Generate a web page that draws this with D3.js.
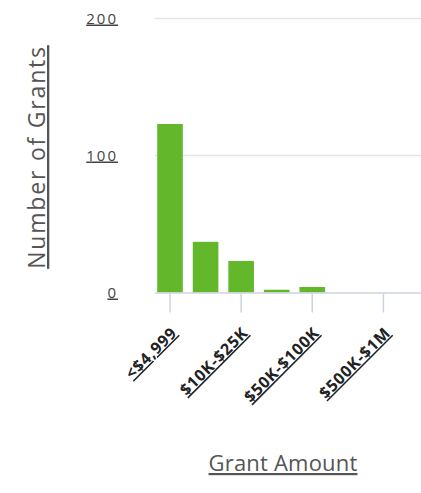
<!DOCTYPE html>
<html>
<head>
<meta charset="utf-8">
<script src="https://cdn.jsdelivr.net/npm/d3@7"></script>
<style>
    body { margin: 0; background: #fff; }
    svg { display: block; }
</style>
</head>
<body>
<div id="chart"></div>
<script>
// data
const categories = ['<$4,999', '$5K-$10K', '$10K-$25K', '$25K-$50K', '$50K-$100K', '$100K-$500K', '$500K-$1M', '$1M+'];
const grantCounts = [123, 37, 23, 2, 4, 0, 0, 0];
const yTicks = [0, 100, 200];

const width = 421, height = 493;

const svg = d3.select('#chart')
    .append('svg')
    .attr('width', width)
    .attr('height', height)
    .style('font-family', '"Open Sans", sans-serif');

const x = d3.scaleBand()
    .domain(categories)
    .range([154, 435])
    .paddingInner(0.28)
    .paddingOuter(0.09);

const y = d3.scaleLinear()
    .domain([0, 200])
    .range([292.5, 18.5]);

// grid lines
svg.append('g')
    .selectAll('line')
    .data(yTicks.filter(d => d > 0))
    .join('line')
    .attr('x1', 155)
    .attr('x2', width)
    .attr('y1', d => y(d))
    .attr('y2', d => y(d))
    .attr('stroke', '#e4e4e4')
    .attr('stroke-width', 1.5);

// y labels
svg.append('g')
    .selectAll('text')
    .data(yTicks)
    .join('text')
    .attr('x', 118)
    .attr('y', d => y(d) + 5)
    .attr('text-anchor', 'end')
    .attr('font-size', 15)
    .attr('letter-spacing', 2)
    .attr('fill', '#444')
    .attr('text-decoration', 'underline')
    .text(d => d);

// bars
svg.append('g')
    .selectAll('rect')
    .data(grantCounts)
    .join('rect')
    .attr('x', (d, i) => x(categories[i]))
    .attr('y', d => y(d))
    .attr('width', x.bandwidth())
    .attr('height', d => y(0) - y(d))
    .attr('fill', '#63b72b');

// x axis line
svg.append('line')
    .attr('x1', 155)
    .attr('x2', width)
    .attr('y1', y(0) + 0.5)
    .attr('y2', y(0) + 0.5)
    .attr('stroke', '#ccd3e0')
    .attr('stroke-width', 1.5);

// ticks + labels every other category
const shown = categories.filter((d, i) => i % 2 === 0);
const tickG = svg.append('g')
    .selectAll('g')
    .data(shown)
    .join('g')
    .attr('transform', d => 'translate(' + (x(d) + x.bandwidth() / 2) + ',0)');

tickG.append('line')
    .attr('y1', y(0) + 1)
    .attr('y2', y(0) + 20)
    .attr('stroke', '#ccd3e0')
    .attr('stroke-width', 1.5);

tickG.append('text')
    .attr('transform', 'translate(8,334) rotate(-45)')
    .attr('text-anchor', 'end')
    .attr('font-size', 16)
    .attr('font-weight', 700)
    .attr('letter-spacing', 0.8)
    .attr('fill', '#222')
    .attr('text-decoration', 'underline')
    .text(d => d);

// axis titles
svg.append('text')
    .attr('transform', 'translate(45,157) rotate(-90)')
    .attr('text-anchor', 'middle')
    .attr('font-size', 23)
    .attr('letter-spacing', 1.8)
    .attr('fill', '#555')
    .attr('text-decoration', 'underline')
    .text('Number of Grants');

svg.append('text')
    .attr('x', 283)
    .attr('y', 471)
    .attr('text-anchor', 'middle')
    .attr('font-size', 22)
    .attr('letter-spacing', 0.2)
    .attr('fill', '#555')
    .attr('text-decoration', 'underline')
    .text('Grant Amount');
</script>
</body>
</html>
